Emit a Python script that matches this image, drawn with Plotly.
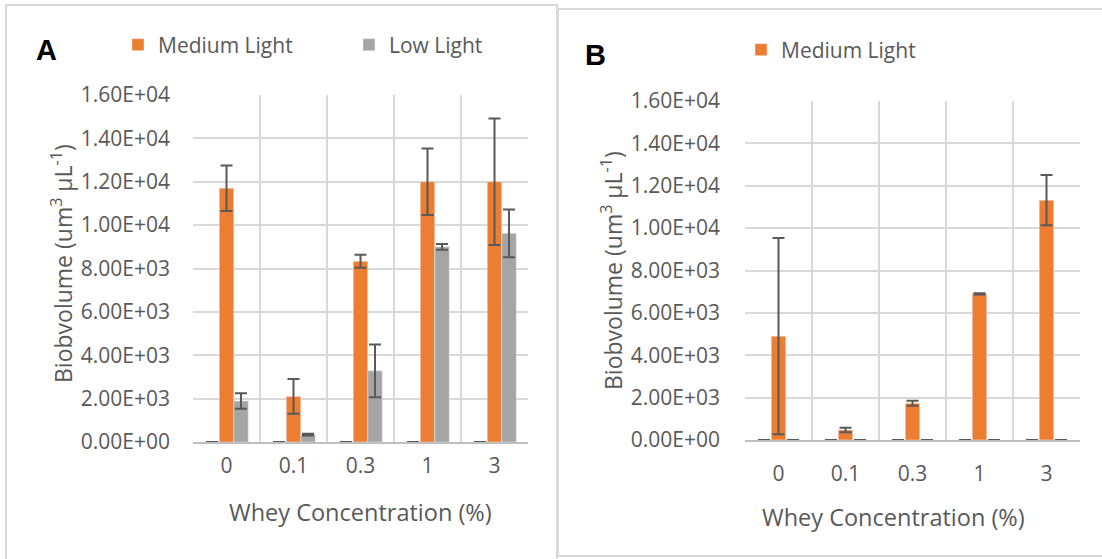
import plotly.graph_objects as go

W, H = 1102, 559

categories = ["0", "0.1", "0.3", "1", "3"]
xpos = [0, 1, 2, 3, 4]

# Panel A
a_zero = [0, 0, 0, 0, 0]
a_medium = [11700, 2100, 8330, 12000, 12000]
a_medium_err = [1050, 800, 300, 1530, 2920]
a_low = [1890, 340, 3280, 9000, 9620]
a_low_err = [355, 40, 1220, 130, 1100]

# Panel B
b_zero = [0, 0, 0, 0, 0]
b_medium = [4900, 472, 1735, 6900, 11320]
b_medium_err = [4630, 110, 120, 30, 1190]
b_low = [0, 0, 0, 0, 0]

yticks = [0, 2000, 4000, 6000, 8000, 10000, 12000, 14000, 16000]
ytick_text = ["0.00E+00", "2.00E+03", "4.00E+03", "6.00E+03", "8.00E+03",
              "1.00E+04", "1.20E+04", "1.40E+04", "1.60E+04"]

ORANGE = "#ED7D31"
GRAY = "#A5A5A5"
ERR = "#595959"
GRID = "#d9d9d9"
TXT = "#595959"
FONT = "Open Sans"


def err(vals):
    return dict(type="data", array=vals, visible=True, color=ERR, thickness=2, width=6)


fig = go.Figure()

# Panel A traces
fig.add_trace(go.Bar(x=xpos, y=a_zero, name="Series 1", marker_color="rgba(0,0,0,0)",
                     error_y=err([0] * 5), showlegend=False, xaxis="x", yaxis="y",
                     offsetgroup="1"))
fig.add_trace(go.Bar(x=xpos, y=a_medium, name="Medium Light", marker_color=ORANGE,
                     error_y=err(a_medium_err), xaxis="x", yaxis="y", legend="legend",
                     offsetgroup="2"))
fig.add_trace(go.Bar(x=xpos, y=a_low, name="Low Light", marker_color=GRAY,
                     error_y=err(a_low_err), xaxis="x", yaxis="y", legend="legend",
                     offsetgroup="3"))

# Panel B traces
fig.add_trace(go.Bar(x=xpos, y=b_zero, name="Series 1", marker_color="rgba(0,0,0,0)",
                     error_y=err([0] * 5), showlegend=False, xaxis="x2", yaxis="y2",
                     offsetgroup="1"))
fig.add_trace(go.Bar(x=xpos, y=b_medium, name="Medium Light", marker_color=ORANGE,
                     error_y=err(b_medium_err), xaxis="x2", yaxis="y2", legend="legend2",
                     offsetgroup="2"))
fig.add_trace(go.Bar(x=xpos, y=b_low, name="Low Light", marker_color="rgba(0,0,0,0)",
                     error_y=err([0] * 5), showlegend=False, xaxis="x2", yaxis="y2",
                     offsetgroup="3"))


def px_x(v):
    return v / W


def px_y(v):
    return 1 - v / H


xaxis_common = dict(
    range=[-0.5, 4.5], tickvals=xpos, ticktext=categories, showgrid=False,
    zeroline=False, showline=True, linecolor="#bfbfbf", linewidth=2,
    ticks="", tickfont=dict(family=FONT, size=21, color=TXT),
    minor=dict(tickvals=[-0.5, 0.5, 1.5, 2.5, 3.5, 4.5], showgrid=True,
               gridcolor=GRID, gridwidth=2, ticks=""),
    fixedrange=True, automargin=False,
)
yaxis_common = dict(
    range=[0, 16000], tickvals=yticks, ticktext=ytick_text, showgrid=True,
    gridcolor=GRID, gridwidth=2, zeroline=False, showline=False,
    ticks="", tickfont=dict(family=FONT, size=21, color=TXT),
    fixedrange=True, automargin=False,
)

ytitle = "Biobvolume (um<sup>3</sup> µL<sup>-1</sup>)"
xtitle = "Whey Concentration (%)"
TF = dict(family=FONT, size=23, color=TXT)
XTF = dict(family=FONT, size=23.5, color=TXT)


def ann(text, x, y, font, angle=0):
    return dict(text=text, x=px_x(x), y=px_y(y), xref="paper", yref="paper",
                xanchor="center", yanchor="middle", showarrow=False,
                font=font, textangle=angle)


fig.update_layout(
    width=W, height=H,
    margin=dict(l=0, r=0, t=0, b=0, autoexpand=False),
    paper_bgcolor="white", plot_bgcolor="white",
    barmode="group", bargap=0.35, bargroupgap=0,
    xaxis=dict(xaxis_common, domain=[px_x(193), px_x(528)], anchor="y",
               ticklabelstandoff=4),
    yaxis=dict(yaxis_common, domain=[px_y(442), px_y(95)], anchor="x",
               ticklabelstandoff=22),
    xaxis2=dict(xaxis_common, domain=[px_x(745), px_x(1080)], anchor="y2",
                ticklabelstandoff=14),
    yaxis2=dict(yaxis_common, domain=[px_y(440), px_y(101)], anchor="x2",
                ticklabelstandoff=24),
    legend=dict(orientation="h", x=px_x(118), y=px_y(45), xanchor="left", yanchor="middle",
                font=dict(family=FONT, size=21, color=TXT), bgcolor="rgba(0,0,0,0)",
                entrywidth=186, itemwidth=30, traceorder="normal"),
    legend2=dict(orientation="h", x=px_x(741), y=px_y(50), xanchor="left", yanchor="middle",
                 font=dict(family=FONT, size=21, color=TXT), bgcolor="rgba(0,0,0,0)",
                 itemwidth=30),
    shapes=[
        dict(type="rect", xref="paper", yref="paper", x0=px_x(6), x1=px_x(557),
             y0=-0.1, y1=px_y(5), line=dict(color=GRID, width=2), layer="below"),
        dict(type="rect", xref="paper", yref="paper", x0=px_x(558), x1=1.1,
             y0=px_y(556), y1=px_y(9), line=dict(color=GRID, width=2), layer="below"),
    ],
    annotations=[
        ann("<b>A</b>", 46, 50, dict(family="Liberation Sans", size=29, color="black")),
        ann("<b>B</b>", 595, 55, dict(family="Liberation Sans", size=29, color="black")),
        ann(ytitle, 62, 264, TF, -90),
        ann(ytitle, 612, 271, TF, -90),
        ann(xtitle, 360.5, 512, XTF),
        ann(xtitle, 893.5, 517, XTF),
    ],
)

fig.write_html("out.html")
